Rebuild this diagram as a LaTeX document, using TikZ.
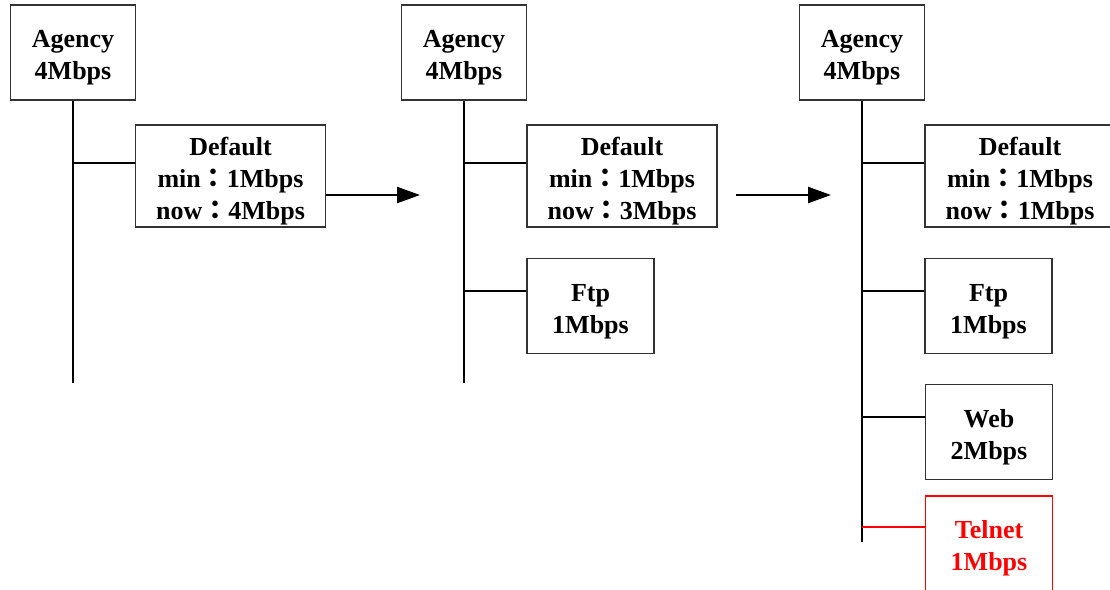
\documentclass[tikz,border=0pt]{standalone}
\usepackage{fontspec}
\setmainfont{Liberation Serif}
\newfontfamily\cjkfont{Noto Sans CJK TC}
\usetikzlibrary{arrows.meta}
% full-width colon, centred in its em as in traditional Chinese typesetting
\newcommand\fwcolon{{\cjkfont ：}}
% stacked, centred lines, set slightly low in the box (box extent unchanged)
\newcommand\boxtext[1]{\raisebox{-0.1cm}[\height][\depth]{\begin{tabular}{@{}c@{}}#1\end{tabular}}}
\definecolor{alertred}{RGB}{255,0,0}
\tikzset{
  box/.style={draw=black!80, line width=0.6pt, fill=white, inner sep=0pt,
    font=\fontsize{14.8pt}{18.2pt}\selectfont\bfseries},
  agencybox/.style={box, minimum width=2.5cm, minimum height=1.9cm},
  defaultbox/.style={box, minimum width=3.8cm, minimum height=2.04cm},
  smallbox/.style={box, minimum width=2.54cm, minimum height=1.9cm},
  trunk/.style={draw=black, line width=0.6pt},
  newbox/.style={draw=alertred, text=alertred},
  steparrow/.style={draw=black, line width=1.3pt, -{Triangle[length=4.6mm,width=3.2mm]}}
}
\begin{document}
\begin{tikzpicture}[x=0.02cm, y=-0.02cm]
\useasboundingbox (0,0) rectangle (1110,589);
\clip (0,0) rectangle (1110,589);

% ---------- stage 1 ----------
\node[agencybox] (ag1) at (73,52.5) {\boxtext{Agency\\4Mbps}};
\node[defaultbox] (def1) at (230.5,176) {\boxtext{Default\\min\fwcolon 1Mbps\\now\fwcolon 4Mbps}};
\coordinate (end1) at (73,383);
\coordinate (br1a) at (73,163);
\draw[trunk] (ag1.south) -- (end1);
\draw[trunk] (br1a) -- (br1a -| def1.west);

% ---------- stage 2 ----------
\node[agencybox] (ag2) at (464,52.5) {\boxtext{Agency\\4Mbps}};
\node[defaultbox] (def2) at (622,176) {\boxtext{Default\\min\fwcolon 1Mbps\\now\fwcolon 3Mbps}};
\node[smallbox] (ftp2) at (590.5,306) {\boxtext{Ftp\\1Mbps}};
\coordinate (end2) at (464,383);
\coordinate (br2a) at (464,163);
\coordinate (br2b) at (464,291);
\draw[trunk] (ag2.south) -- (end2);
\draw[trunk] (br2a) -- (br2a -| def2.west);
\draw[trunk] (br2b) -- (br2b -| ftp2.west);

% ---------- stage 3 ----------
\node[agencybox] (ag3) at (862,52.5) {\boxtext{Agency\\4Mbps}};
\node[defaultbox] (def3) at (1020,176) {\boxtext{Default\\min\fwcolon 1Mbps\\now\fwcolon 1Mbps}};
\node[smallbox] (ftp3) at (988.5,306) {\boxtext{Ftp\\1Mbps}};
\node[smallbox] (web3) at (989,432) {\boxtext{Web\\2Mbps}};
\node[smallbox, newbox] (tel3) at (989,543.5) {\boxtext{Telnet\\1Mbps}};
\coordinate (end3) at (862,542);
\coordinate (br3a) at (862,163);
\coordinate (br3b) at (862,291);
\coordinate (br3c) at (862,417);
\coordinate (br3d) at (862,527);
\draw[trunk] (ag3.south) -- (end3);
\draw[trunk] (br3a) -- (br3a -| def3.west);
\draw[trunk] (br3b) -- (br3b -| ftp3.west);
\draw[trunk] (br3c) -- (br3c -| web3.west);
\draw[trunk, draw=alertred] (br3d) -- (br3d -| tel3.west);

% ---------- transitions ----------
\coordinate (tip1) at (420,195);
\coordinate (tail2) at (736,195);
\coordinate (tip2) at (831,195);
\draw[steparrow] (def1.east |- tip1) -- (tip1);
\draw[steparrow] (tail2) -- (tip2);
\end{tikzpicture}
\end{document}
